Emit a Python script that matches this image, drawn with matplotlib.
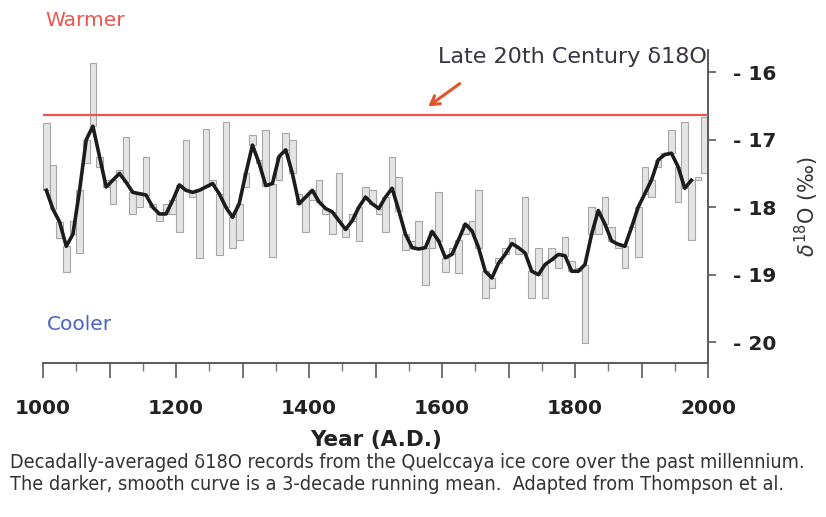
import numpy as np
import matplotlib
matplotlib.use("Agg")
import matplotlib.pyplot as plt
from matplotlib.ticker import FixedLocator, FixedFormatter

# ---------------- data ----------------
decade_start = list(range(1000, 2000, 10))

decadal_d18o = [
    -16.75, -17.38, -18.45, -18.96, -18.20, -18.68, -17.35, -15.87, -17.40, -17.60,
    -17.95, -17.45, -16.96, -18.10, -18.00, -17.25, -17.95, -18.20, -17.95, -18.10,
    -18.37, -17.00, -17.85, -18.75, -16.84, -17.60, -18.71, -16.74, -18.61, -18.49,
    -17.70, -16.93, -17.30, -16.86, -18.74, -17.60, -16.90, -17.00, -17.80, -18.37,
    -17.90, -17.60, -18.10, -18.40, -17.50, -18.44, -18.10, -18.50, -17.70, -17.75,
    -18.10, -18.37, -17.25, -17.55, -18.64, -18.50, -18.20, -19.16, -18.60, -17.77,
    -18.96, -18.60, -18.98, -18.40, -18.20, -17.75, -19.35, -19.20, -18.75, -18.60,
    -18.45, -18.70, -17.85, -19.35, -18.60, -19.35, -18.60, -18.90, -18.44, -18.80,
    -18.90, -20.02, -18.00, -18.40, -17.85, -18.30, -18.60, -18.90, -18.30, -18.74,
    -17.40, -17.85, -17.40, -17.20, -16.86, -17.92, -16.74, -18.49, -17.60, -16.66,
]

smooth_d18o = [
    -17.75, -18.03, -18.22, -18.58, -18.40, -17.75, -17.00, -16.80, -17.25, -17.70,
    -17.60, -17.50, -17.63, -17.78, -17.80, -17.82, -18.00, -18.10, -18.10, -17.90,
    -17.67, -17.75, -17.78, -17.75, -17.70, -17.65, -17.80, -18.00, -18.15, -17.95,
    -17.50, -17.08, -17.35, -17.68, -17.65, -17.25, -17.15, -17.50, -17.95, -17.85,
    -17.75, -17.92, -18.02, -18.07, -18.20, -18.33, -18.20, -18.00, -17.85, -17.95,
    -18.02, -17.85, -17.72, -18.05, -18.40, -18.60, -18.62, -18.60, -18.36, -18.50,
    -18.75, -18.70, -18.48, -18.25, -18.35, -18.60, -18.95, -19.05, -18.83, -18.70,
    -18.54, -18.60, -18.68, -18.95, -19.00, -18.85, -18.78, -18.70, -18.72, -18.95,
    -18.95, -18.85, -18.40, -18.05, -18.25, -18.50, -18.55, -18.58, -18.30, -18.00,
    -17.80, -17.60, -17.30, -17.22, -17.20, -17.40, -17.72, -17.60, -17.55, -17.50,
]
smooth_last_year = 1975

present_level = -16.64

x_major = list(range(1000, 2001, 100))
x_major_labels = ["1000", "", "1200", "", "1400", "", "1600", "", "1800", "", "2000"]
x_minor = list(range(1050, 2000, 100))
y_ticks = [-16, -17, -18, -19, -20]
y_tick_labels = ["- 16", "- 17", "- 18", "- 19", "- 20"]

# ---------------- figure ----------------
W, H = 826, 517
fig = plt.figure(figsize=(W / 100, H / 100), dpi=100)
L, R, T, B = 43, 708, 50, 363
ax = fig.add_axes([L / W, 1 - B / H, (R - L) / W, (B - T) / H])

centers = np.array(decade_start) + 5
dec = np.array(decadal_d18o)
sm = np.array(smooth_d18o)

ax.bar(centers, dec - sm, bottom=sm, width=10, color="#e4e4e4",
       edgecolor="#a6a6a6", linewidth=0.8, zorder=2)
mask = centers <= smooth_last_year
ax.plot(centers[mask], sm[mask], color="#1c1c1c", lw=2.6, zorder=3,
        solid_joinstyle="round")
ax.axhline(present_level, color="#e8574f", lw=1.6, zorder=4)

ax.set_xlim(1000, 2000)
ax.set_ylim(-20.31, -15.67)

for s in ("top", "left"):
    ax.spines[s].set_visible(False)
for s in ("right", "bottom"):
    ax.spines[s].set_color("#5a5a5a")
    ax.spines[s].set_linewidth(1.4)

tickfont = dict(family="DejaVu Sans", weight="bold", size=14.5)

ax.xaxis.set_major_locator(FixedLocator(x_major))
ax.xaxis.set_major_formatter(FixedFormatter(x_major_labels))
ax.xaxis.set_minor_locator(FixedLocator(x_minor))
ax.tick_params(axis="x", which="major", direction="out", length=11, width=1.2,
               color="#5a5a5a", pad=15)
ax.tick_params(axis="x", which="minor", direction="out", length=6, width=1.0,
               color="#777777")
for lab in ax.get_xticklabels():
    lab.set(**tickfont, color="#222222")

ax.yaxis.tick_right()
ax.yaxis.set_major_locator(FixedLocator(y_ticks))
ax.yaxis.set_major_formatter(FixedFormatter(y_tick_labels))
ax.tick_params(axis="y", which="major", direction="out", length=6, width=1.2,
               color="#5a5a5a", pad=12)
for lab in ax.get_yticklabels():
    lab.set(**tickfont, color="#222222")

# ---------------- texts ----------------
def fx(px):
    return px / W

def fy(py):
    return 1 - py / H

fig.text(fx(376), fy(440), "Year (A.D.)", ha="center", va="center",
         family="DejaVu Sans", weight="bold", size=15.5, color="#222222")
fig.text(fx(807), fy(206), r"$\delta^{18}$O (‰)", ha="center", va="center",
         rotation=90, family="DejaVu Sans", size=15, color="#333333")

fig.text(fx(45), fy(20), "Warmer", ha="left", va="center",
         family="DejaVu Sans", size=14.5, color="#e8574f")
fig.text(fx(47), fy(325), "Cooler", ha="left", va="center",
         family="DejaVu Sans", size=14.5, color="#4a62c6")
fig.text(fx(438), fy(57), "Late 20th Century δ18O", ha="left", va="center",
         family="DejaVu Sans", size=16, color="#3a3340")

ax.annotate("", xy=(fx(426), fy(108)), xycoords="figure fraction",
            xytext=(fx(462), fy(82)), textcoords="figure fraction",
            arrowprops=dict(arrowstyle="->,head_length=0.6,head_width=0.35",
                            color="#e0552e", lw=2.2))

fig.text(fx(10), fy(463),
         "Decadally-averaged δ18O records from the Quelccaya ice core over the past millennium.",
         ha="left", va="center", family="DejaVu Sans", size=14.2,
         color="#333333", stretch="condensed")
fig.text(fx(10), fy(485),
         "The darker, smooth curve is a 3-decade running mean.  Adapted from Thompson et al.",
         ha="left", va="center", family="DejaVu Sans", size=14.2,
         color="#333333", stretch="condensed")

fig.savefig("out.png", dpi=100)
